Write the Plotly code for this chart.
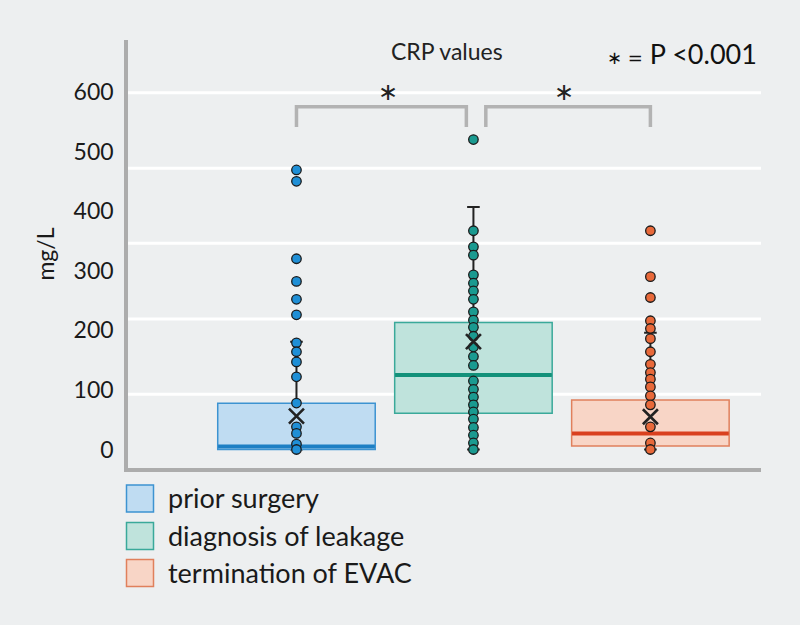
import plotly.graph_objects as go

# ---------------- data ----------------
GROUPS = ["prior surgery", "diagnosis of leakage", "termination of EVAC"]
POS = [0, 1, 2]
Q1 = [0, 61, 6]
MEDIAN = [5, 125, 27]
Q3 = [77.5, 213, 83]
LOWER = [0, 0, 0]
UPPER = [181, 407, 196]
MEAN = [56, 181, 55]
POINTS_PRIOR = [469, 450, 320, 282, 252, 226, 179, 164, 147, 122, 78, 38, 27, 9, 0]
POINTS_DIAG = [520, 367, 340, 326, 293, 279, 266, 252, 231, 217, 205, 190, 172,
               156, 141, 115, 101, 88, 75, 63, 51, 37, 24, 11, 0]
POINTS_TERM = [367, 290, 255, 216, 203, 186, 164, 143, 129, 118, 105, 90, 75, 38, 11, 0]
POINTS = [POINTS_PRIOR, POINTS_DIAG, POINTS_TERM]
Y_TICKS = [0, 100, 200, 300, 400, 500, 600]
GRID = [92.6, 219, 346, 471.8, 598.7]
BRACKETS = [(0, 0.96), (1.07, 2.0)]
BRACKET_Y = (541, 575)
STAR_X = [0.52, 1.51]
STAR_Y = 600

# ---------------- styles ----------------
FILL = ["#bfdcf2", "#bfe3dc", "#f8d5c6"]
EDGE = ["#3d93d1", "#3aa99a", "#e0805c"]
MED = ["#1d7fc4", "#12917a", "#d9401f"]
DOT = ["#1f8fd6", "#1a9a90", "#e8693a"]
BG = "#edeff0"
AXIS = "#acacac"
FONT = "Lato"
STARFONT = "DejaVu Sans"
BOXW = 0.89

L, R, T, B = 128, 39, 40, 157
W, H = 800, 625
PW, PH = W - L - R, H - T - B


def px_x(px):
    return (px - L) / PW


def px_y(py):
    return (H - B - py) / PH


fig = go.Figure()

for i in range(3):
    # whiskers (black), drawn first, hidden inside box by the fill
    fig.add_trace(go.Box(
        x=[POS[i]], q1=[MEDIAN[i]], median=[MEDIAN[i]], q3=[MEDIAN[i]],
        lowerfence=[LOWER[i]], upperfence=[UPPER[i]],
        width=BOXW, whiskerwidth=0.08, fillcolor="rgba(0,0,0,0)",
        line=dict(color="#222222", width=2), boxpoints=False,
        hoverinfo="skip", showlegend=False))
    # coloured box
    fig.add_trace(go.Box(
        x=[POS[i]], q1=[Q1[i]], median=[MEDIAN[i]], q3=[Q3[i]],
        lowerfence=[Q1[i]], upperfence=[Q3[i]],
        width=BOXW, whiskerwidth=0, fillcolor=FILL[i],
        line=dict(color=EDGE[i], width=1.5), boxpoints=False,
        name=GROUPS[i], showlegend=False))
    # thick median line
    fig.add_trace(go.Box(
        x=[POS[i]], q1=[MEDIAN[i]], median=[MEDIAN[i]], q3=[MEDIAN[i]],
        lowerfence=[MEDIAN[i]], upperfence=[MEDIAN[i]],
        width=BOXW * 0.995, whiskerwidth=0, fillcolor="rgba(0,0,0,0)",
        line=dict(color=MED[i], width=4), boxpoints=False,
        hoverinfo="skip", showlegend=False))

for i in range(3):
    fig.add_trace(go.Scatter(
        x=[POS[i]] * len(POINTS[i]), y=POINTS[i], mode="markers",
        marker=dict(size=9.5, color=DOT[i], line=dict(color="#1a1a1a", width=1.3)),
        showlegend=False, name=GROUPS[i]))

fig.add_trace(go.Scatter(
    x=POS, y=MEAN, mode="markers",
    marker=dict(symbol="x-thin", size=15, color="#222222",
                line=dict(color="#222222", width=2.6)),
    showlegend=False, name="mean"))

shapes = []
for g in GRID:
    shapes.append(dict(type="line", xref="paper", x0=0, x1=1, yref="y", y0=g, y1=g,
                       line=dict(color="white", width=3), layer="below"))
for (a, b) in BRACKETS:
    shapes.append(dict(type="path", xref="x", yref="y",
                       path=f"M {a},{BRACKET_Y[0]} L {a},{BRACKET_Y[1]} L {b},{BRACKET_Y[1]} L {b},{BRACKET_Y[0]}",
                       line=dict(color="#b3b3b3", width=3.5)))

annotations = []
for sx in STAR_X:
    annotations.append(dict(x=sx, y=STAR_Y, xref="x", yref="y", text="∗",
                            showarrow=False, font=dict(family=STARFONT, size=24, color="#222")))

annotations.append(dict(x=px_x(447), y=px_y(51), xref="paper", yref="paper",
                        text="CRP values", showarrow=False, xanchor="center", yanchor="middle",
                        font=dict(family=FONT, size=23, color="#222")))
annotations.append(dict(x=px_x(759), y=px_y(54), xref="paper", yref="paper",
                        text=f"<span style='font-family:{STARFONT};font-size:18px'>∗ =</span> P <0.001",
                        showarrow=False, xanchor="right", yanchor="middle",
                        font=dict(family=FONT, size=27, color="#111")))

# legend (manual)
LEG_CY = [498.5, 536, 573]
for i in range(3):
    cy = LEG_CY[i]
    shapes.append(dict(type="rect", xref="paper", yref="paper",
                       x0=px_x(126.5), x1=px_x(153.5), y0=px_y(cy + 13.5), y1=px_y(cy - 13.5),
                       fillcolor=FILL[i], line=dict(color=EDGE[i], width=1.5)))
    annotations.append(dict(x=px_x(166), y=px_y(cy - 1), xref="paper", yref="paper",
                            text=GROUPS[i], showarrow=False, xanchor="left", yanchor="middle",
                            font=dict(family=FONT, size=27, color="#1a1a1a")))

fig.update_layout(
    width=W, height=H, margin=dict(l=L, r=R, t=T, b=B, pad=0),
    paper_bgcolor=BG, plot_bgcolor=BG, boxmode="overlay",
    shapes=shapes, annotations=annotations, showlegend=False,
    font=dict(family=FONT, color="#1a1a1a"),
)
fig.update_xaxes(range=[-0.952, 2.625], showgrid=False, zeroline=False,
                 showticklabels=False, ticks="", showline=True, linecolor=AXIS, linewidth=3.5)
fig.update_yaxes(range=[-31, 687], tickvals=Y_TICKS, showgrid=False, zeroline=False,
                 showline=True, linecolor=AXIS, linewidth=3.5, ticks="",
                 ticklabelstandoff=6, tickfont=dict(family=FONT, size=23, color="#1a1a1a"),
                 title=dict(text="mg/L", standoff=14, font=dict(family=FONT, size=23, color="#1a1a1a")))

fig.write_html("out.html", config={"displayModeBar": False},
               post_script="document.body.style.margin='0px';")
